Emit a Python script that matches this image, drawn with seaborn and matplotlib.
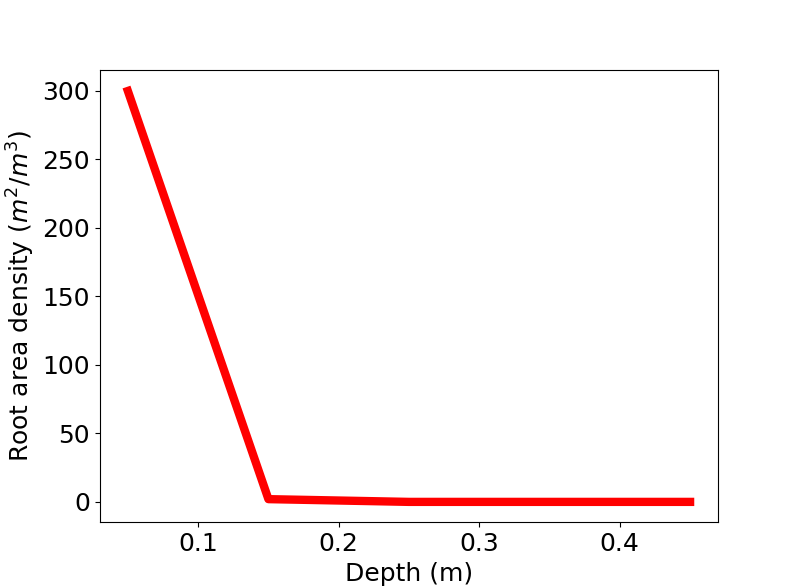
import matplotlib
matplotlib.use("Agg")
import matplotlib.pyplot as plt
import seaborn as sns
import pandas as pd

depth = [0.05, 0.15, 0.25, 0.35, 0.45]
density = [300, 2, 0, 0, 0]

df = pd.DataFrame({"Depth (m)": depth, "density": density})
fig, ax = plt.subplots(figsize=(7.98, 5.87), dpi=100)
sns.lineplot(data=df, x="Depth (m)", y="density", color="red", linewidth=6, ax=ax)
ax.set_xlabel("Depth (m)", fontsize=18)
ax.set_ylabel("Root area density ($m^2/m^3$)", fontsize=18)
ax.tick_params(labelsize=18)
ax.set_xticks([0.1, 0.2, 0.3, 0.4])
fig.savefig("out.png", dpi=100)
